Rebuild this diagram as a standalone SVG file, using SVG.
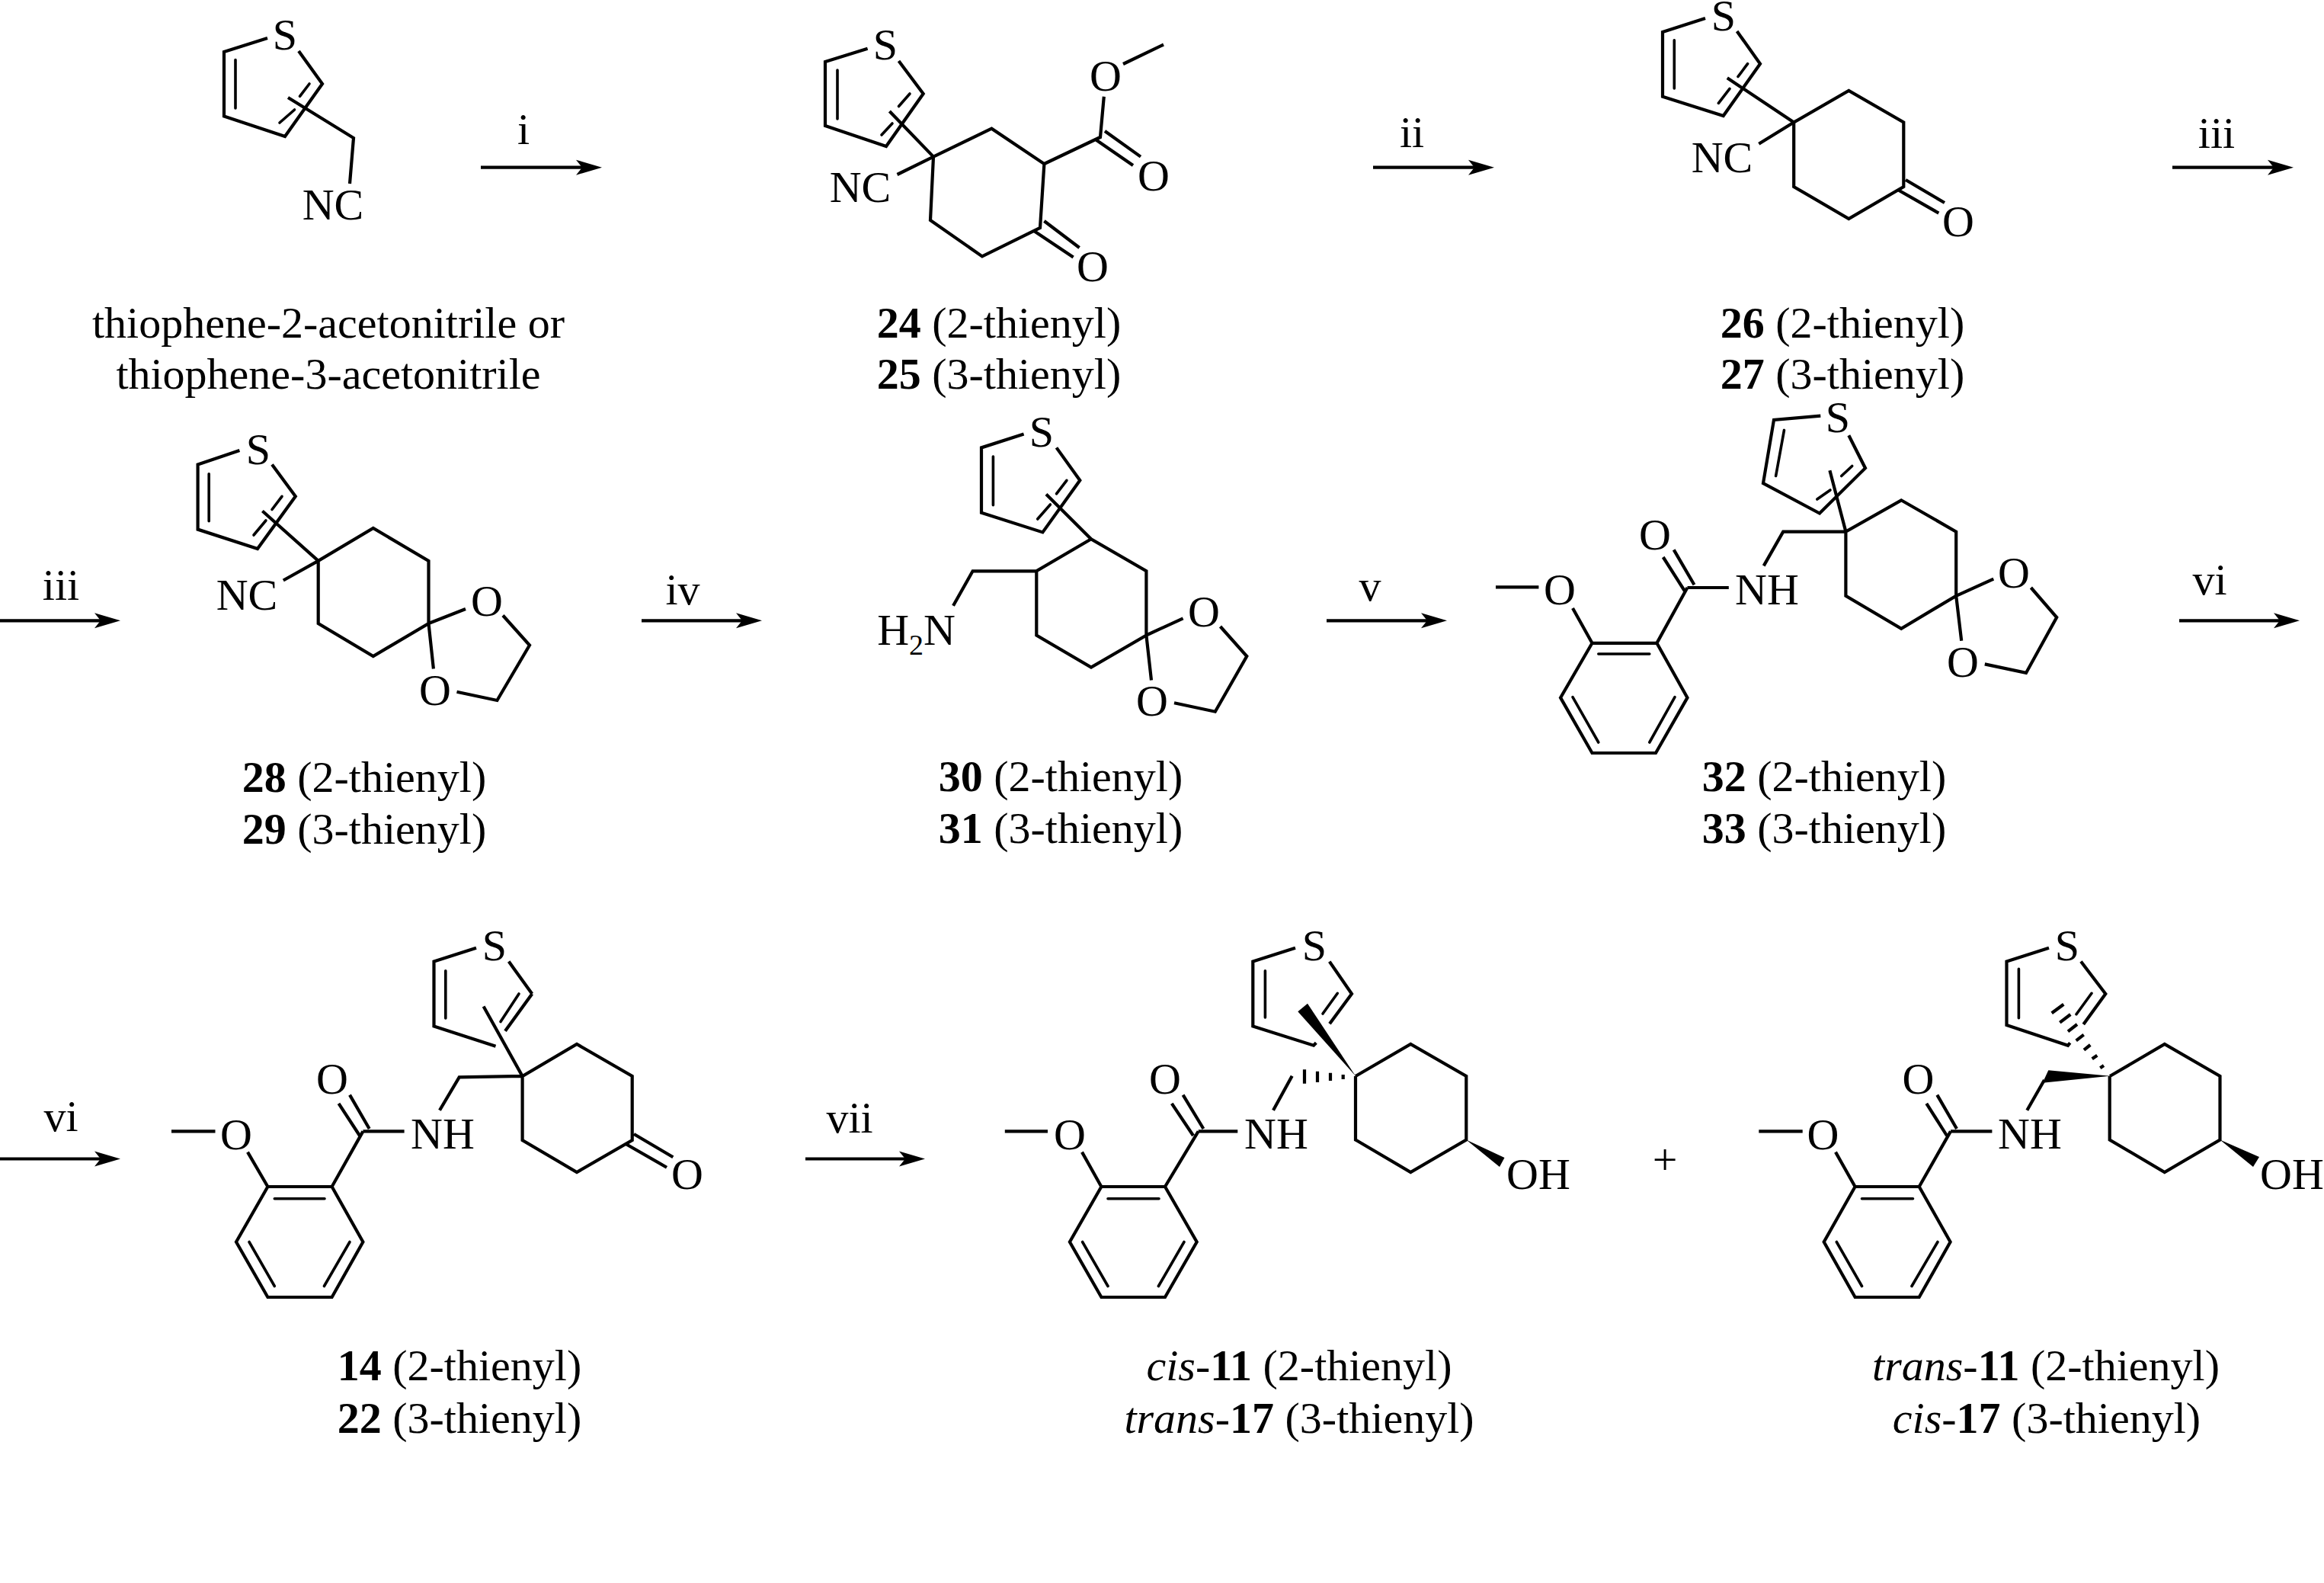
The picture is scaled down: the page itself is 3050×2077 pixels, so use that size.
<svg xmlns="http://www.w3.org/2000/svg" width="3050" height="2077" viewBox="0 0 3050 2077">
<defs>
<style>
text{font-family:"Liberation Serif","Times New Roman",serif;font-size:58px;fill:#000;text-anchor:middle}
.b{fill:none;stroke:#000;stroke-width:4.2;stroke-linejoin:miter;stroke-linecap:butt}
.i{fill:none;stroke:#000;stroke-width:3.6;stroke-linecap:round}
.a{fill:none;stroke:#000;stroke-width:4.2}
.s{fill:#000;stroke:none}
.n{font-weight:bold}
.e{font-style:italic}
.sub{font-size:38px}
</style>
<marker id="head" markerUnits="userSpaceOnUse" markerWidth="40" markerHeight="24" refX="8" refY="12" orient="auto">
<path d="M0 2L34 12L0 22L8 12Z" fill="#000"/>
</marker>
</defs>
<rect width="3050" height="2077" fill="#fff"/>

<g id="connectors">
<line class="a" x1="631" y1="219.7" x2="764" y2="219.7" marker-end="url(#head)"/>
<line class="a" x1="1802" y1="219.7" x2="1935" y2="219.7" marker-end="url(#head)"/>
<line class="a" x1="2851" y1="219.7" x2="2984" y2="219.7" marker-end="url(#head)"/>
<line class="a" x1="0" y1="814.3" x2="132" y2="814.3" marker-end="url(#head)"/>
<line class="a" x1="842" y1="814.3" x2="974" y2="814.3" marker-end="url(#head)"/>
<line class="a" x1="1741" y1="814.3" x2="1873" y2="814.3" marker-end="url(#head)"/>
<line class="a" x1="2860" y1="814.3" x2="2992" y2="814.3" marker-end="url(#head)"/>
<line class="a" x1="0" y1="1520.5" x2="132" y2="1520.5" marker-end="url(#head)"/>
<line class="a" x1="1057" y1="1520.5" x2="1188" y2="1520.5" marker-end="url(#head)"/>
<text x="687" y="189">i</text>
<text x="1853" y="193">ii</text>
<text x="2909" y="194">iii</text>
<text x="80" y="787">iii</text>
<text x="896" y="793">iv</text>
<text x="1798" y="788">v</text>
<text x="2900" y="780">vi</text>
<text x="80" y="1484">vi</text>
<text x="1115" y="1486">vii</text>
<text x="2185" y="1541">+</text>
</g>

<g id="thiophene-acetonitrile">
<path class="b" d="M351 50L294 68V152.5L374 179L423 110L392 67"/>
<path class="i" d="M309 78.5V142M406 110L393.5 126.4M386.5 144L367 161"/>
<path class="b" d="M378 128L464 181L459 241"/>
<text x="374" y="65">S</text>
<text x="437" y="288">NC</text>
<text x="431" y="442.5">thiophene-2-acetonitrile or</text>
<text x="431" y="510">thiophene-3-acetonitrile</text>
</g>

<g id="compound-24-25">
<path class="b" d="M1138.6 63.7L1083 81V165L1163 192L1211.7 123L1179.5 80"/>
<path class="i" d="M1099 92V156M1194 123L1179.5 139.5M1171 162L1157 177"/>
<path class="b" d="M1167.4 146L1225 205.6M1225 205.6L1301.4 168.7L1370.4 215L1365 299L1289 336.4L1221 289L1225 205.6L1177.5 229M1370.4 215L1444 180L1448.8 126.7M1474 84L1527 58.5M1437 182.5L1487 217M1450 172L1497 205.6M1357 303L1408.6 337.5M1370.4 290L1416.6 325"/>
<text x="1162" y="78">S</text>
<text x="1129" y="265">NC</text>
<text x="1451" y="119">O</text>
<text x="1514" y="250">O</text>
<text x="1434" y="369">O</text>
<text x="1311" y="442.5"><tspan class="n">24</tspan> (2-thienyl)</text>
<text x="1311" y="510"><tspan class="n">25</tspan> (3-thienyl)</text>
</g>

<g id="compound-26-27">
<path class="b" d="M2238 24L2182 42V126.7L2261.7 152L2310 83.7L2279.6 41"/>
<path class="i" d="M2197.3 52.7V116M2293.6 83.7L2281 100.5M2270 116.4L2255.4 135.3"/>
<path class="b" d="M2266.8 102.3L2354.2 160.5L2426.3 119L2498.3 160.5V245L2426.3 287L2354.2 245V160.5L2308.3 188.7M2492 249.7L2544.3 279.6M2501 236L2552 266"/>
<text x="2262" y="39.5">S</text>
<text x="2260" y="225.5">NC</text>
<text x="2570" y="310">O</text>
<text x="2418" y="442.5"><tspan class="n">26</tspan> (2-thienyl)</text>
<text x="2418" y="510"><tspan class="n">27</tspan> (3-thienyl)</text>
</g>

<g id="compound-28-29">
<path class="b" d="M314.4 591L259.6 609.6V694.6L338 720L387.8 651.3L357 609.6"/>
<path class="i" d="M274.2 621.8V683.8M370 651.3L357 668.5M348.9 683L333 702"/>
<path class="b" d="M344.4 670.5L417.7 735.9L489.8 693L562.5 735.9V818L489.8 861L417.7 818V735.9L371.8 761.5M562.5 818L611 799M562.5 818L568.9 877.5M660 807.5L695 846.5L652.4 919L599.5 907.7"/>
<text x="339" y="608.5">S</text>
<text x="324" y="800">NC</text>
<text x="639" y="808">O</text>
<text x="571" y="925">O</text>
<text x="478" y="1039"><tspan class="n">28</tspan> (2-thienyl)</text>
<text x="478" y="1106.5"><tspan class="n">29</tspan> (3-thienyl)</text>
</g>

<g id="compound-30-31">
<path class="b" d="M1343.6 569.4L1288 587.4V672.7L1368.4 698.4L1417.3 630.3L1386.5 587.4"/>
<path class="i" d="M1303.4 599V662.8M1399.9 630.3L1386.5 647.9M1378.4 662L1361.7 681"/>
<path class="b" d="M1373 648.6L1432 707.2L1504.4 749.3V833.5L1432 875.6L1360.3 833.5V749.3L1432 707.2M1360.3 749.3H1276.6L1251 794.8M1504.4 833.5L1552.6 811.3M1504.4 833.5L1511 892.4M1601.5 822L1636.3 861L1594.8 933.7L1541 922.3"/>
<text x="1367" y="585.5">S</text>
<text x="1254" y="845.5" style="text-anchor:end">H<tspan class="sub" dy="13">2</tspan><tspan dy="-13">N</tspan></text>
<text x="1580" y="821.5">O</text>
<text x="1512" y="938.5">O</text>
<text x="1392" y="1038"><tspan class="n">30</tspan> (2-thienyl)</text>
<text x="1392" y="1106"><tspan class="n">31</tspan> (3-thienyl)</text>
</g>

<g id="compound-32-33">
<path class="b" d="M2389.3 545.7L2328 551L2314 634L2388 673.5L2448 614.2L2426.3 571.3"/>
<path class="i" d="M2341.5 564.4L2330.6 624.5M2430.7 611.5L2416.7 624.5M2402 643L2384.8 655"/>
<path class="b" d="M2401.4 617.3L2422.4 697.6L2495.2 656.3L2567.2 697.6V781.8L2495.2 824.7L2422.4 781.8V697.6H2340.2L2314.7 742.4M2567.2 781.8L2616.3 759.6M2567.2 781.8L2574.2 840.8M2665.4 771L2699.2 810L2659 882.9L2604.8 871.4M2214.5 771H2268.8M2182.7 731L2210.7 775M2196.7 721.4L2223.5 767.3M2214.5 771L2174.4 843.8H2089.5L2048 915.4L2089.5 988H2173L2214.5 915.4L2174.4 843.8M2089.5 843.8L2064 798M1963 770.3H2019.4"/>
<path class="i" d="M2097.8 858H2164.8M2198 914.6L2164.8 974M2064 914.6L2097.8 974"/>
<text x="2412" y="567">S</text>
<text x="2319" y="793">NH</text>
<text x="2172" y="720.5">O</text>
<text x="2047" y="793">O</text>
<text x="2643" y="771">O</text>
<text x="2576" y="888">O</text>
<text x="2394" y="1038"><tspan class="n">32</tspan> (2-thienyl)</text>
<text x="2394" y="1106"><tspan class="n">33</tspan> (3-thienyl)</text>
</g>

<g id="compound-14-22">
<path class="b" d="M625 1243.8L569.5 1261.6V1346.4L650.5 1372.8M698.3 1304L663 1352.7M698.3 1304L667.7 1261.6"/>
<path class="i" d="M584.8 1273.7V1336M681 1304L657 1340.6"/>
<path class="b" d="M634.6 1320.5L685.6 1412L757 1370L829.7 1412V1496L757 1538L685.6 1496V1412L602.7 1413.4L577 1456.7M821.4 1501L875 1531.7M832 1488L883.3 1518.3M476.4 1484.4H530.6M444.5 1447.8L472 1490M459 1436.6L484.7 1481M476.4 1484.4L435.6 1557H351.4L310 1629.5L351.4 1702H435.6L476.4 1629.5L435.6 1557M351.4 1557L325 1511.6M225 1484.4H282.5"/>
<path class="i" d="M360.3 1572.8H426M459 1629.5L425.4 1687.5M327 1629.5L360.3 1687.5"/>
<text x="649" y="1259.5">S</text>
<text x="581" y="1507">NH</text>
<text x="436" y="1435">O</text>
<text x="310" y="1508">O</text>
<text x="902" y="1559.5">O</text>
<text x="603" y="1810.5"><tspan class="n">14</tspan> (2-thienyl)</text>
<text x="603" y="1879.5"><tspan class="n">22</tspan> (3-thienyl)</text>
</g>

<g id="compound-cis-11-trans-17">
<path class="b" d="M1700 1243.8L1644.3 1261.6V1346.4L1724 1371.7L1727.3 1368.3M1745 1343.3L1774 1304L1744.8 1261.6"/>
<path class="i" d="M1660.4 1273.7V1335M1755.3 1303.3L1736 1330"/>
<path class="s" d="M1779 1411.7L1716 1316.7L1703.3 1327.3Z"/>
<path class="a" d="M1762.7 1410V1416M1746 1407.7V1418M1729 1405.7V1420M1712 1403.3V1421.7"/>
<path class="b" d="M1695.7 1411.7L1671 1456.7M1779 1412L1851.3 1370L1924.3 1412V1495.5L1851.3 1538L1779 1495.5V1412M1572.7 1484.4H1624.3M1537.8 1447.8L1566 1490M1552.6 1436.6L1579.4 1481M1572.7 1484.4L1529 1557H1445.4L1403.9 1629.5L1445.4 1702H1529L1570.7 1629.5L1529 1557M1445.4 1557L1420 1511.6M1318.8 1484.4H1375"/>
<path class="i" d="M1454 1572.8H1521M1554 1629.5L1520.4 1687.5M1420.6 1629.5L1454 1687.5"/>
<path class="s" d="M1924.3 1495.5L1974.5 1519L1968 1531Z"/>
<text x="1725" y="1259.5">S</text>
<text x="1675" y="1507">NH</text>
<text x="1529" y="1435">O</text>
<text x="1404" y="1508">O</text>
<text x="1977" y="1559.5" style="text-anchor:start">OH</text>
<text x="1705" y="1810.5"><tspan class="e">cis</tspan>-<tspan class="n">11</tspan> (2-thienyl)</text>
<text x="1705" y="1879.5"><tspan class="e">trans</tspan>-<tspan class="n">17</tspan> (3-thienyl)</text>
</g>

<g id="compound-trans-11-cis-17">
<path class="b" d="M2689 1243.8L2633.5 1261.6V1345L2714 1371.7L2716.7 1368.3M2734.3 1344L2763.3 1304L2731 1261.6"/>
<path class="i" d="M2649.4 1271.4V1335.7M2745 1303.3L2725 1330.7"/>
<path class="a" d="M2692.7 1329.3L2708.3 1317.7M2703.3 1341.7L2717.3 1331M2714 1353.3L2726 1344M2724.7 1365.3L2734.7 1357.7M2735 1377.7L2743.3 1371M2745.7 1389.3L2752.3 1384.7M2756.3 1401.3L2761 1398"/>
<path class="s" d="M2769.3 1411.7L2688.3 1404.3L2680.7 1420.7Z"/>
<path class="b" d="M2683 1417L2660.3 1456.7M2769 1412L2840.8 1370L2913.5 1412V1495.5L2840.8 1538L2768.7 1495.5V1412M2560 1484.4H2614.4M2528.3 1447.8L2555 1490M2542.3 1436.6L2568 1481M2560 1484.4L2518.7 1557H2434.6L2393.7 1629.5L2434.6 1702H2518.7L2559.6 1629.5L2518.7 1557M2434.6 1557L2409 1511.6M2308.3 1484.4H2365.7"/>
<path class="i" d="M2443.5 1572.8H2510.5M2543 1629.5L2509 1687.5M2410.3 1629.5L2443.5 1687.5"/>
<path class="s" d="M2913.5 1495.5L2965 1518L2957 1531Z"/>
<text x="2713" y="1259.5">S</text>
<text x="2664" y="1507">NH</text>
<text x="2517.5" y="1435">O</text>
<text x="2392.5" y="1508">O</text>
<text x="2966" y="1559.5" style="text-anchor:start">OH</text>
<text x="2685" y="1810.5"><tspan class="e">trans</tspan>-<tspan class="n">11</tspan> (2-thienyl)</text>
<text x="2686" y="1879.5"><tspan class="e">cis</tspan>-<tspan class="n">17</tspan> (3-thienyl)</text>
</g>
</svg>
